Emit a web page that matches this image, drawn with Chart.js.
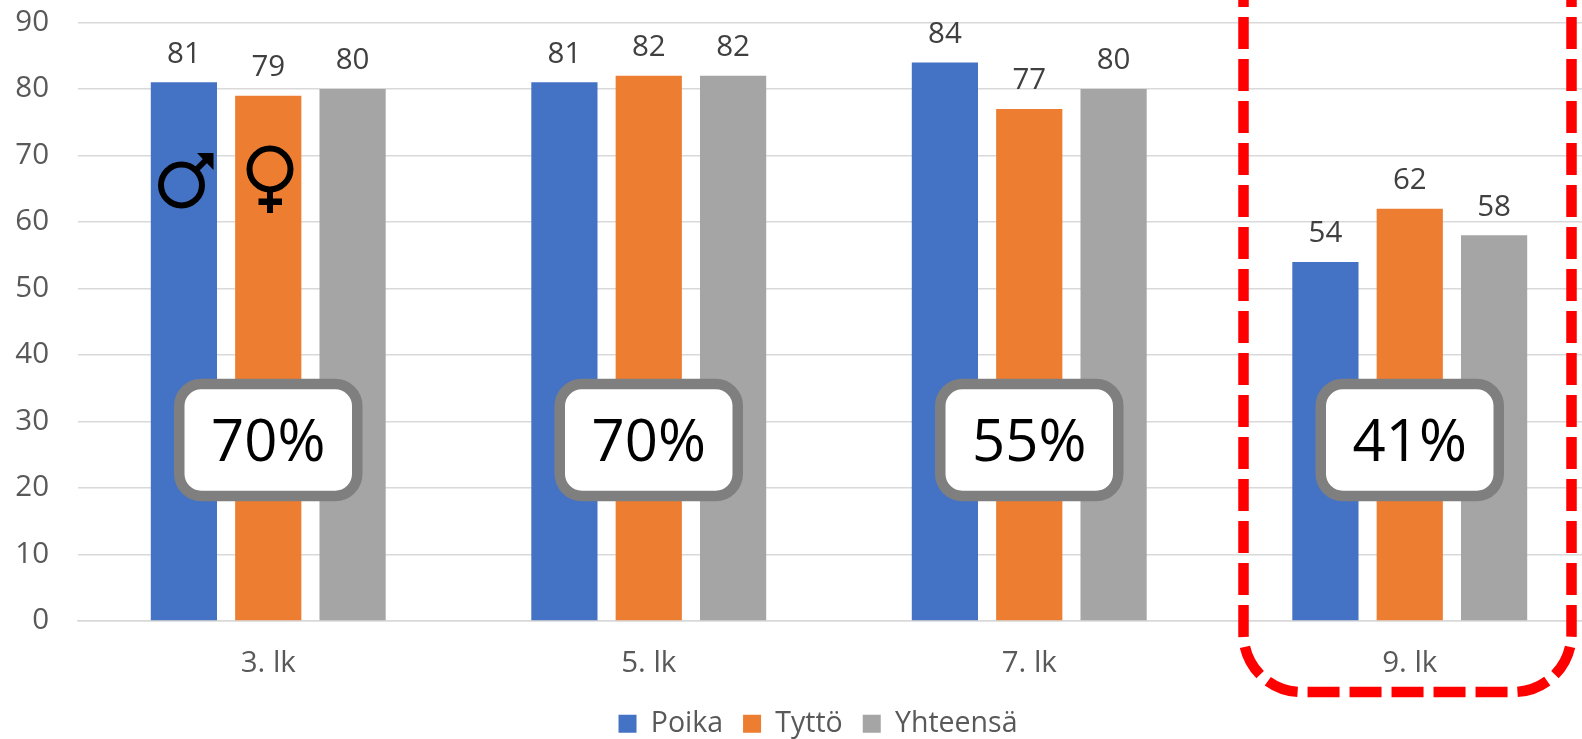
<!DOCTYPE html>
<html><head><meta charset="utf-8">
<style>html,body{margin:0;padding:0;background:#fff;overflow:hidden;width:1582px;height:739px}
#w{position:absolute;left:0;top:0;width:1582px;height:739px;overflow:hidden}canvas{display:block}</style>
<script src="https://cdn.jsdelivr.net/npm/chart.js@4"></script></head>
<body><div id="w"><canvas id="c" width="1600" height="748" style="width:1600px;height:748px"></canvas></div>
<script>
const categories = ["3. lk","5. lk","7. lk","9. lk"];
const poika = [81,81,84,54];
const tytto = [79,82,77,62];
const yhteensa = [80,82,80,58];
const percentLabels = ["70%","70%","55%","41%"];
const yMax = 90, yStep = 10;
const FONT = '"Open Sans"';

const overlay = {
  id:'overlay',
  afterLayout(chart){ chart.legend.left += 18; chart.legend.right += 18; },
  afterDatasetsDraw(chart){
    const {ctx, scales:{x,y}} = chart;
    ctx.save();
    // value labels
    ctx.font = '29.5px '+FONT; ctx.fillStyle='#404040'; ctx.textAlign='center'; ctx.textBaseline='middle';
    chart.data.datasets.forEach((ds,i)=>{
      chart.getDatasetMeta(i).data.forEach((b,j)=>ctx.fillText(ds.data[j], b.x, b.y-28));
    });
    // percentage boxes
    categories.forEach((c,i)=>{
      const cx = x.getPixelForValue(i);
      ctx.beginPath(); ctx.roundRect(cx-89,384,178,112,22);
      ctx.fillStyle='#fff'; ctx.fill();
      ctx.lineWidth=10.5; ctx.strokeStyle='#7f7f7f'; ctx.stroke();
      ctx.fillStyle='#000'; ctx.font='58px '+FONT; ctx.textBaseline='middle';
      ctx.fillText(percentLabels[i], cx, 444);
    });
    // male symbol
    ctx.strokeStyle='#000'; ctx.fillStyle='#000'; ctx.lineWidth=6;
    ctx.beginPath(); ctx.arc(181.5,185,20.5,0,Math.PI*2); ctx.stroke();
    ctx.beginPath(); ctx.moveTo(196,170); ctx.lineTo(209,157); ctx.stroke();
    ctx.beginPath(); ctx.moveTo(197,153); ctx.lineTo(213.5,153); ctx.lineTo(213.5,170); ctx.closePath(); ctx.fill();
    // female symbol
    ctx.beginPath(); ctx.arc(270,169,20.5,0,Math.PI*2); ctx.stroke();
    ctx.fillRect(267,191,6,22);
    ctx.fillRect(258.5,198.5,23.5,6.5);
    // dashed frame
    const L=1243.5,R=1571.5,B=692,r=58;
    ctx.beginPath(); ctx.moveTo(L,-25); ctx.lineTo(L,B-r);
    ctx.arcTo(L,B,L+r,B,r); ctx.lineTo(R-r,B); ctx.arcTo(R,B,R,B-r,r); ctx.lineTo(R,-25);
    ctx.setLineDash([32,10]); ctx.lineWidth=10.5; ctx.strokeStyle='#ff0000'; ctx.stroke();
    ctx.restore();
  }
};

new Chart(document.getElementById('c'),{
  type:'bar',
  data:{labels:categories,datasets:[
    {label:'Poika',data:poika,backgroundColor:'#4472c4'},
    {label:'Tyttö',data:tytto,backgroundColor:'#ed7d31'},
    {label:'Yhteensä',data:yhteensa,backgroundColor:'#a5a5a5'}
  ]},
  plugins:[overlay],
  options:{
    responsive:false,animation:false,
    layout:{padding:{top:22.5,right:0,left:0,bottom:0}},
    datasets:{bar:{barPercentage:0.785,categoryPercentage:0.665}},
    scales:{
      x:{
        grid:{display:false},
        border:{color:'#d9d9d9',width:1.5},
        ticks:{color:'#595959',font:{family:FONT,size:29.5},padding:17,maxRotation:0},
        afterFit(s){s.height=68.5;}
      },
      y:{
        min:0,max:yMax,
        ticks:{stepSize:yStep,color:'#595959',font:{family:FONT,size:29.5},padding:29},
        grid:{color:'#d9d9d9',lineWidth:1.5,drawTicks:false},
        border:{display:false},
        afterFit(s){s.width=78;s.paddingTop=0;s.paddingBottom=0;}
      }
    },
    plugins:{
      tooltip:{enabled:false},
      legend:{position:'bottom',
        labels:{boxWidth:18,boxHeight:18,color:'#595959',font:{family:FONT,size:28.5},padding:20}}
    }
  }
});
</script></body></html>
